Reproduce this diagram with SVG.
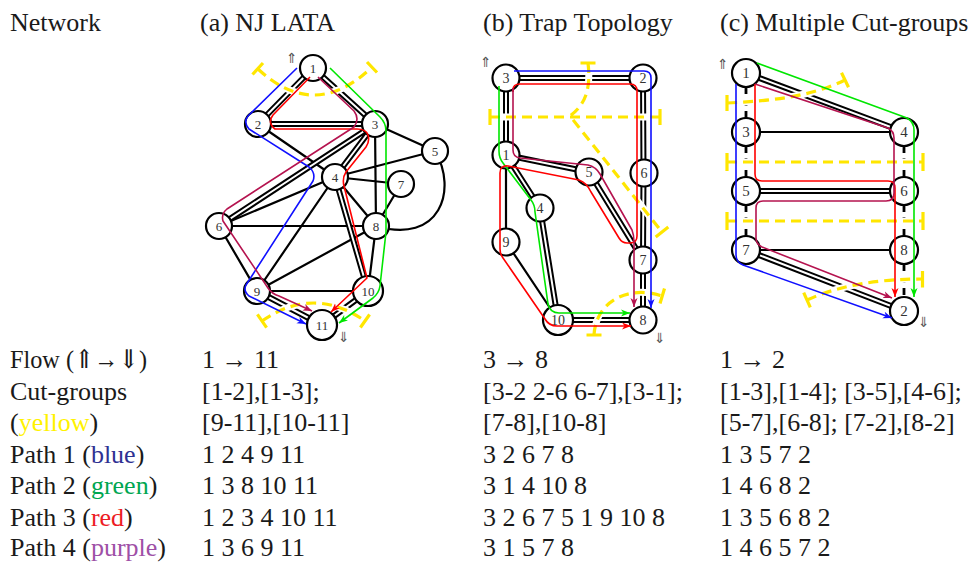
<svg xmlns="http://www.w3.org/2000/svg" width="975" height="562" viewBox="0 0 975 562">
  <style>
    .t { font-family: "Liberation Serif", "Times New Roman", "DejaVu Serif", serif; font-size: 26px; fill: #1a1a1a; }
    .e { fill: none; stroke: #000; stroke-width: 2.2; }
    .dO { fill: none; stroke: #000; stroke-width: 6; }
    .dI { fill: none; stroke: #fff; stroke-width: 2; }
    .dash { fill: none; stroke: #000; stroke-width: 2.8; stroke-dasharray: 7 5; }
    .halo { fill: none; stroke: #fff; stroke-width: 7; }
    .cut { fill: none; stroke: #ffe600; stroke-width: 3.2; stroke-dasharray: 10 6; }
    .bar { fill: none; stroke: #ffe600; stroke-width: 3.2; }
    .n circle { fill: #fff; stroke: #000; stroke-width: 2.2; }
    .n text { font-family: "Liberation Serif", "DejaVu Serif", serif; fill: #333; text-anchor: middle; }
    .a text { font-size: 13px; }
    .b text { font-size: 14px; }
    .c text { font-size: 15px; }
    .p { fill: none; stroke-width: 1.6; stroke-linejoin: round; }
    .blue { stroke: #1010ff; marker-end: url(#mb); }
    .green { stroke: #00e600; marker-end: url(#mg); }
    .red { stroke: #ff0000; marker-end: url(#mr); }
    .purple { stroke: #b5134f; marker-end: url(#mp); }
    .io { font-family: "DejaVu Sans", sans-serif; font-size: 14px; fill: #555; }
  </style>
  <defs>
    <marker id="mb" markerWidth="10" markerHeight="8" refX="9" refY="4" orient="auto" markerUnits="userSpaceOnUse"><path d="M0,0.5 L9,4 L0,7.5 L2.5,4 Z" fill="#1010ff"/></marker>
    <marker id="mg" markerWidth="10" markerHeight="8" refX="9" refY="4" orient="auto" markerUnits="userSpaceOnUse"><path d="M0,0.5 L9,4 L0,7.5 L2.5,4 Z" fill="#00e600"/></marker>
    <marker id="mr" markerWidth="10" markerHeight="8" refX="9" refY="4" orient="auto" markerUnits="userSpaceOnUse"><path d="M0,0.5 L9,4 L0,7.5 L2.5,4 Z" fill="#ff0000"/></marker>
    <marker id="mp" markerWidth="10" markerHeight="8" refX="9" refY="4" orient="auto" markerUnits="userSpaceOnUse"><path d="M0,0.5 L9,4 L0,7.5 L2.5,4 Z" fill="#b5134f"/></marker>
  </defs>

  <!-- header row -->
  <g id="header">
    <text class="t" x="10" y="31">Network</text>
    <text class="t" x="200" y="31">(a) NJ LATA</text>
    <text class="t" x="483" y="31">(b) Trap Topology</text>
    <text class="t" x="720" y="31">(c) Multiple Cut-groups</text>
  </g>

  <!-- ===== (a) NJ LATA ===== -->
  <g id="edges-a">
    <path class="e" d="M258,124 L335,177 M375,124 L435,151 M375,124 L376,226 M335,177 L435,151 M335,177 L219,226 M335,177 L401,184 M335,177 L376,226 M335,177 L257,291 M219,226 L376,226 M219,226 L257,291 M401,184 L376,226 M257,291 L376,226 M376,226 L368,291 M257,291 L368,291 M435,151 C458,190 440,245 376,226"/>
    <path class="dO" d="M313,68 L258,124 M313,68 L375,124 M258,124 L375,124 M375,124 L335,177 M375,124 L219,226 M335,177 L368,291 M257,291 L322,325 M368,291 L322,325"/>
    <path class="dI" d="M313,68 L258,124 M313,68 L375,124 M258,124 L375,124 M375,124 L335,177 M375,124 L219,226 M335,177 L368,291 M257,291 L322,325 M368,291 L322,325"/>
  </g>
  <g id="cuts-a">
    <path class="halo" d="M258,69 Q315,122 372,67 M262,321 Q314,285 365,321"/>
    <path class="cut" d="M258,69 Q315,122 372,67 M262,321 Q314,285 365,321"/>
    <path class="bar" d="M252.5,74.5 L263,63 M367,62 L377,72.5 M257.4,314.4 L266.6,327.6 M369.6,314.5 L360.4,327.5"/>
  </g>
  <g id="a1" class="n a"><circle cx="313" cy="68" r="13"/><text x="313" y="72.5">1</text></g>
  <g id="a2" class="n a"><circle cx="258" cy="124" r="13"/><text x="258" y="128.5">2</text></g>
  <g id="a3" class="n a"><circle cx="375" cy="124" r="13"/><text x="375" y="128.5">3</text></g>
  <g id="a4" class="n a"><circle cx="335" cy="177" r="13"/><text x="335" y="181.5">4</text></g>
  <g id="a5" class="n a"><circle cx="435" cy="151" r="13"/><text x="435" y="155.5">5</text></g>
  <g id="a6" class="n a"><circle cx="219" cy="226" r="13"/><text x="219" y="230.5">6</text></g>
  <g id="a7" class="n a"><circle cx="401" cy="184" r="13"/><text x="401" y="188.5">7</text></g>
  <g id="a8" class="n a"><circle cx="376" cy="226" r="13"/><text x="376" y="230.5">8</text></g>
  <g id="a9" class="n a"><circle cx="257" cy="291" r="13"/><text x="257" y="295.5">9</text></g>
  <g id="a10" class="n a"><circle cx="368" cy="291" r="15"/><text x="368" y="295.5">10</text></g>
  <g id="a11" class="n a"><circle cx="322" cy="325" r="15"/><text x="322" y="329.5">11</text></g>
  <g id="paths-a">
    <path class="p blue" d="M297,68 L248,116 Q243,122 249,129 L309,167 Q316,173 313,181 L246,285 Q243,291 249,296 L306,324"/>
    <path class="p green" d="M330,68 L380,117 Q386,123 386,131 L386,232 L380,286 Q379,293 373,298 L339,323"/>
    <path class="p red" d="M310,77 L273,115 Q267,123 275,129 L357,129 Q366,129 368,135 Q370,141 366,147 L346,172 Q342,178 344,186 L367,278 L331,312"/>
    <path class="p purple" d="M318,77 L354,111 Q360,119 354,127 L227,209 Q221,214 223,221 L268,288 Q272,294 279,296 L312,311"/>
  </g>
  <text class="io" x="286" y="63">⇑</text>
  <text class="io" x="338" y="342">⇓</text>

  <!-- ===== (b) Trap Topology ===== -->
  <g id="edges-b">
    <path class="e" d="M506,155 L506,242 M506,242 L558,320"/>
    <path class="dO" d="M506,78 L643,78 M506,78 L506,155 M643,78 L643.5,173 M643.5,173 L643,260 M506,155 L589,172 M589,172 L643,260 M506,155 L540,208 M540,208 L558,320 M558,320 L643,320 M643,260 L643,320"/>
    <path class="dI" d="M506,78 L643,78 M506,78 L506,155 M643,78 L643.5,173 M643.5,173 L643,260 M506,155 L589,172 M589,172 L643,260 M506,155 L540,208 M540,208 L558,320 M558,320 L643,320 M643,260 L643,320"/>
  </g>
  <g id="cuts-b">
    <path class="halo" d="M490,117 L660,117 M588,63 C591,88 586,104 570,116 L662,232 M594,335 C596,300 630,285 662,296"/>
    <path class="cut" d="M490,117 L660,117 M588,63 C591,88 586,104 570,116 L662,232 M594,335 C596,300 630,285 662,296"/>
    <path class="bar" d="M490,109 L490,125 M660,109 L660,125 M580.5,63 L595.5,63 M655.7,237 L668.3,227 M586.5,335 L601.5,335 M664.5,288.5 L660,303.5"/>
  </g>
  <g id="b3" class="n b"><circle cx="506" cy="78" r="13.5"/><text x="506" y="83">3</text></g>
  <g id="b2" class="n b"><circle cx="643" cy="78" r="13.5"/><text x="643" y="83">2</text></g>
  <g id="b1" class="n b"><circle cx="506" cy="155" r="13.5"/><text x="506" y="160">1</text></g>
  <g id="b5" class="n b"><circle cx="589" cy="172" r="13.5"/><text x="589" y="177">5</text></g>
  <g id="b6" class="n b"><circle cx="644" cy="173" r="13.5"/><text x="644" y="178">6</text></g>
  <g id="b4" class="n b"><circle cx="540" cy="208" r="13.5"/><text x="540" y="213">4</text></g>
  <g id="b9" class="n b"><circle cx="506" cy="242" r="13.5"/><text x="506" y="247">9</text></g>
  <g id="b7" class="n b"><circle cx="643" cy="260" r="13.5"/><text x="643" y="265">7</text></g>
  <g id="b10" class="n b"><circle cx="558" cy="320" r="15"/><text x="558" y="325">10</text></g>
  <g id="b8" class="n b"><circle cx="643" cy="320" r="13.5"/><text x="643" y="325">8</text></g>
  <g id="paths-b">
    <path class="p blue" d="M514,71 L644,71 Q651,71 651,78 L651,308"/>
    <path class="p green" d="M499,86 L499,151 Q499,158 503,163 L531,200 Q535,205 535,212 L548,304 Q550,313 559,313 L630,313"/>
    <path class="p red" d="M513,92 L513,90 Q513,84 520,84 L630,84 Q637,84 637,91 L637,236 Q637,243 630,243 L627,243 Q622,243 619,238 L591,192 Q587,183 579,180 L508,166 Q500,165 500,173 L500,249 Q500,254 503,258 L545,319 Q549,326 557,326 L631,326"/>
    <path class="p purple" d="M513,88 L513,150 Q513,157 520,158 L588,165 Q596,167 600,174 L632,230 Q634,235 634,242 L634,307"/>
  </g>
  <text class="io" x="480" y="67">⇑</text>
  <text class="io" x="654" y="343">⇓</text>

  <!-- ===== (c) Multiple Cut-groups ===== -->
  <g id="edges-c">
    <path class="e" d="M746,132 L904,132 M746,250 L904,250"/>
    <path class="dash" d="M746,87 L746,118 M746,146 L746,177 M746,205 L746,236 M904,146 L904,177 M904,205 L904,236 M904,264 L904,297"/>
    <path class="dO" d="M746,73 L904,132 M746,191 L904,191 M746,250 L904,311"/>
    <path class="dI" d="M746,73 L904,132 M746,191 L904,191 M746,250 L904,311"/>
  </g>
  <g id="cuts-c">
    <path class="halo" d="M727,103 C770,101 810,97 845,80 M727,162 L923,162 M727,221 L923,221 M807,300 C840,285 880,279 922,279"/>
    <path class="cut" d="M727,103 C770,101 810,97 845,80 M727,162 L923,162 M727,221 L923,221 M807,300 C840,285 880,279 922,279"/>
    <path class="bar" d="M727,95 L727,111 M841.5,72.8 L848.5,87.2 M727,153 L727,171 M923,153 L923,171 M727,212 L727,230 M923,212 L923,230 M803.7,292.7 L810.3,307.3 M922.5,271 L922.5,287.5"/>
  </g>
  <g id="c1" class="n c"><circle cx="746" cy="73" r="14"/><text x="746" y="78">1</text></g>
  <g id="c3" class="n c"><circle cx="746" cy="132" r="14"/><text x="746" y="137">3</text></g>
  <g id="c5" class="n c"><circle cx="746" cy="191" r="14"/><text x="746" y="196">5</text></g>
  <g id="c7" class="n c"><circle cx="746" cy="250" r="14"/><text x="746" y="255">7</text></g>
  <g id="c4" class="n c"><circle cx="904" cy="132" r="14"/><text x="904" y="137">4</text></g>
  <g id="c6" class="n c"><circle cx="904" cy="191" r="14"/><text x="904" y="196">6</text></g>
  <g id="c8" class="n c"><circle cx="904" cy="250" r="14"/><text x="904" y="255">8</text></g>
  <g id="c2" class="n c"><circle cx="904" cy="311" r="14"/><text x="904" y="316">2</text></g>
  <g id="paths-c">
    <path class="p blue" d="M736,84 L736,255 Q736,262 743,265 L892,318"/>
    <path class="p green" d="M757,63 L907,118 Q914,122 914,130 L914,297"/>
    <path class="p red" d="M755,84 L755,174 Q755,181 762,181 L888,181 Q895,181 895,188 L895,297"/>
    <path class="p purple" d="M755,84 L888,128 Q894,131 894,138 L894,193 Q894,201 886,201 L763,201 Q756,201 756,208 L756,238 Q756,244 762,247 L892,298"/>
  </g>
  <text class="io" x="717" y="69">⇑</text>
  <text class="io" x="918" y="327">⇓</text>

  <!-- legend table -->
  <g id="table">
    <text class="t" x="10" y="368" textLength="137" lengthAdjust="spacingAndGlyphs">Flow (⇑→⇓)</text>
    <text class="t" x="202" y="368">1 → 11</text>
    <text class="t" x="483" y="368">3 → 8</text>
    <text class="t" x="720" y="368">1 → 2</text>

    <text class="t" x="10" y="399.5">Cut-groups</text>
    <text class="t" x="202" y="399.5">[1-2],[1-3];</text>
    <text class="t" x="483" y="399.5">[3-2 2-6 6-7],[3-1];</text>
    <text class="t" x="720" y="399.5">[1-3],[1-4]; [3-5],[4-6];</text>

    <text class="t" x="10" y="431">(<tspan fill="#fff200">yellow</tspan>)</text>
    <text class="t" x="202" y="431">[9-11],[10-11]</text>
    <text class="t" x="483" y="431">[7-8],[10-8]</text>
    <text class="t" x="720" y="431">[5-7],[6-8]; [7-2],[8-2]</text>

    <text class="t" x="10" y="462.5">Path 1 (<tspan fill="#2e3192">blue</tspan>)</text>
    <text class="t" x="202" y="462.5">1 2 4 9 11</text>
    <text class="t" x="483" y="462.5">3 2 6 7 8</text>
    <text class="t" x="720" y="462.5">1 3 5 7 2</text>

    <text class="t" x="10" y="494">Path 2 (<tspan fill="#00a651">green</tspan>)</text>
    <text class="t" x="202" y="494">1 3 8 10 11</text>
    <text class="t" x="483" y="494">3 1 4 10 8</text>
    <text class="t" x="720" y="494">1 4 6 8 2</text>

    <text class="t" x="10" y="525.5">Path 3 (<tspan fill="#ed1c24">red</tspan>)</text>
    <text class="t" x="202" y="525.5">1 2 3 4 10 11</text>
    <text class="t" x="483" y="525.5">3 2 6 7 5 1 9 10 8</text>
    <text class="t" x="720" y="525.5">1 3 5 6 8 2</text>

    <text class="t" x="10" y="556">Path 4 (<tspan fill="#9e50a6">purple</tspan>)</text>
    <text class="t" x="202" y="556">1 3 6 9 11</text>
    <text class="t" x="483" y="556">3 1 5 7 8</text>
    <text class="t" x="720" y="556">1 4 6 5 7 2</text>
  </g>
</svg>
